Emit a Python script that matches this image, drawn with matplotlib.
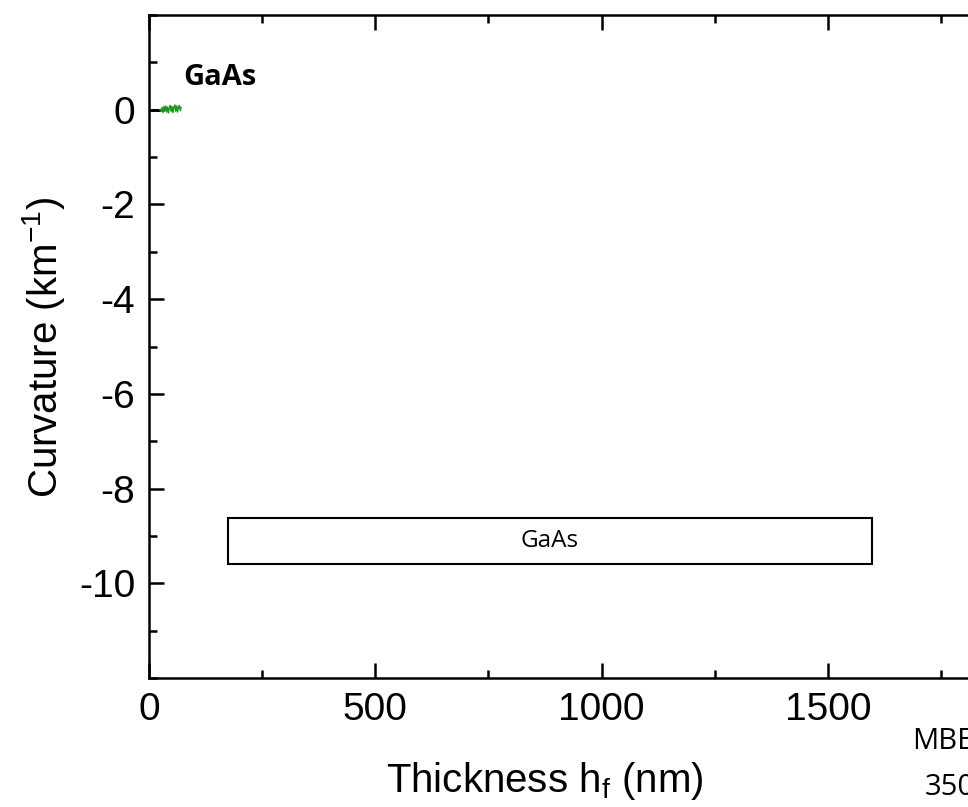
import matplotlib
matplotlib.use("Agg")
import matplotlib.pyplot as plt
from matplotlib.patches import Rectangle
from matplotlib.ticker import MultipleLocator

plt.rcParams["axes.unicode_minus"] = False

# ---- data ----
start_x = [0, 22]
start_y = [0.0, 0.0]
green_x = [24, 27, 29, 31, 33, 35, 37, 39, 41, 43, 45, 47, 49, 51, 53, 55, 57, 59, 61, 63, 65, 67, 69, 71]
green_y = [0.0, -0.04, 0.05, -0.06, 0.07, -0.03, 0.08, -0.05, 0.06, -0.07, 0.04, 0.09, -0.04, 0.07, -0.06, 0.05, 0.1, -0.03, 0.08, -0.05, 0.06, 0.09, -0.02, 0.05]
layer_name = "GaAs"
layer_start, layer_end = 175, 1597
layer_top, layer_bottom = -8.62, -9.6
xticks = [0, 500, 1000, 1500]
yticks = [0, -2, -4, -6, -8, -10]

W, H = 968, 807
fig = plt.figure(figsize=(W / 100, H / 100), dpi=100)
left_px, right_px, top_px, bottom_px = 149, 1054, 15, 678
ax_w, ax_h = right_px - left_px, bottom_px - top_px
ax = fig.add_axes([left_px / W, 1 - bottom_px / H, ax_w / W, ax_h / H])

ax.plot(start_x, start_y, color="black", lw=2)
ax.plot(green_x, green_y, color="#1a9a1a", lw=1.0)

ax.add_patch(Rectangle((layer_start, layer_bottom), layer_end - layer_start, layer_top - layer_bottom,
                       fill=False, edgecolor="black", lw=1.5))
ax.text((layer_start + layer_end) / 2, (layer_top + layer_bottom) / 2, layer_name,
        ha="center", va="center", fontsize=17.5, family="Open Sans")

ax.text(75, 0.53, "GaAs", fontsize=21, fontweight="bold", family="Open Sans", ha="left", va="baseline")

ax.set_xlim(0, 2000)
ax.set_ylim(-12, 2)
ax.set_xticks(xticks)
ax.set_yticks(yticks)
ax.xaxis.set_minor_locator(MultipleLocator(250))
ax.yaxis.set_minor_locator(MultipleLocator(1))
ax.tick_params(which="both", direction="in", top=True, right=True, width=1.8)
ax.tick_params(which="major", length=11, labelsize=28, pad=10)
ax.tick_params(which="minor", length=6)
for lab in ax.get_xticklabels() + ax.get_yticklabels():
    lab.set_family("Liberation Sans")
for s in ax.spines.values():
    s.set_linewidth(1.8)

ax.set_xlabel("Thickness h$_\\mathregular{f}$ (nm)", fontsize=29, family="Liberation Sans")
ax.set_ylabel("Curvature (km$^\\mathregular{-1}$)", fontsize=29, family="Liberation Sans")
ax.xaxis.set_label_coords((545 - left_px) / ax_w, -(792 - bottom_px) / ax_h)
ax.xaxis.label.set_va("baseline")
ax.yaxis.set_label_coords(-(left_px - 20) / ax_w, 1 - (347 - top_px) / ax_h)
ax.yaxis.label.set_va("top")

fig.text(912 / W, 1 - 749 / H, "MBE", fontsize=21, family="Open Sans", ha="left", va="baseline")
fig.text(925 / W, 1 - 795 / H, "350°C", fontsize=21, family="Open Sans", ha="left", va="baseline")

fig.savefig("out.png", dpi=100)
